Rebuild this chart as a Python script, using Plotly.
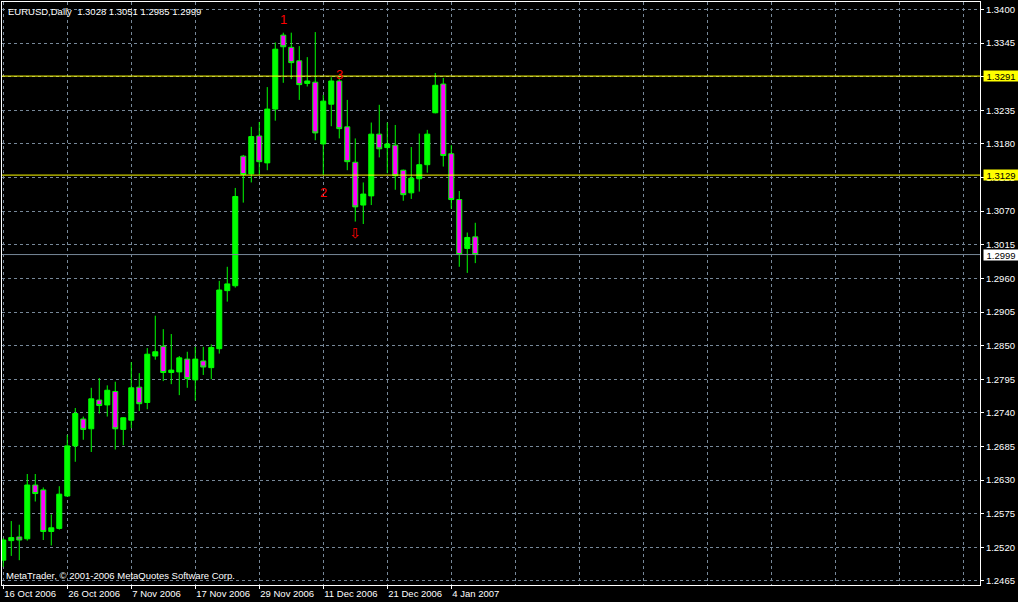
import plotly.graph_objects as go

# ---- data -------------------------------------------------------------
symbol = "EURUSD,Daily"
dates = ["16 Oct 2006", "17 Oct 2006", "18 Oct 2006", "19 Oct 2006", "20 Oct 2006",
         "23 Oct 2006", "24 Oct 2006", "25 Oct 2006", "26 Oct 2006", "27 Oct 2006",
         "30 Oct 2006", "31 Oct 2006", "1 Nov 2006", "2 Nov 2006", "3 Nov 2006",
         "6 Nov 2006", "7 Nov 2006", "8 Nov 2006", "9 Nov 2006", "10 Nov 2006",
         "13 Nov 2006", "14 Nov 2006", "15 Nov 2006", "16 Nov 2006", "17 Nov 2006",
         "20 Nov 2006", "21 Nov 2006", "22 Nov 2006", "23 Nov 2006", "24 Nov 2006",
         "27 Nov 2006", "28 Nov 2006", "29 Nov 2006", "30 Nov 2006", "1 Dec 2006",
         "4 Dec 2006", "5 Dec 2006", "6 Dec 2006", "7 Dec 2006", "8 Dec 2006",
         "11 Dec 2006", "12 Dec 2006", "13 Dec 2006", "14 Dec 2006", "15 Dec 2006",
         "18 Dec 2006", "19 Dec 2006", "20 Dec 2006", "21 Dec 2006", "22 Dec 2006",
         "26 Dec 2006", "27 Dec 2006", "28 Dec 2006", "29 Dec 2006", "2 Jan 2007",
         "3 Jan 2007", "4 Jan 2007", "5 Jan 2007", "8 Jan 2007", "9 Jan 2007"]

opens = [1.2499, 1.2531, 1.2537, 1.2534, 1.2622, 1.2614, 1.2546, 1.2551, 1.2604, 1.2686,
         1.2730, 1.2714, 1.2761, 1.2753, 1.2775, 1.2713, 1.2728, 1.2782, 1.2757, 1.2833,
         1.2849, 1.2806, 1.2807, 1.2828, 1.2794, 1.2825, 1.2814, 1.2845, 1.2940, 1.2948,
         1.3160, 1.3131, 1.3193, 1.3149, 1.3237, 1.3358, 1.3338, 1.3316, 1.3279, 1.3281,
         1.3180, 1.3245, 1.3283, 1.3208, 1.3150, 1.3080, 1.3095, 1.3196, 1.3174, 1.3178,
         1.3137, 1.3100, 1.3123, 1.3146, 1.3231, 1.3278, 1.3164, 1.3089, 1.3009, 1.3028]
highs = [1.2535, 1.2563, 1.2557, 1.2640, 1.2640, 1.2618, 1.2574, 1.2620, 1.2704, 1.2748,
         1.2734, 1.2781, 1.2797, 1.2785, 1.2791, 1.2733, 1.2823, 1.2805, 1.2846, 1.2899,
         1.2877, 1.2869, 1.2833, 1.2840, 1.2848, 1.2848, 1.2852, 1.2956, 1.2979, 1.3108,
         1.3162, 1.3208, 1.3216, 1.3273, 1.3346, 1.3362, 1.3362, 1.3340, 1.3322, 1.3363,
         1.3260, 1.3289, 1.3289, 1.3252, 1.3189, 1.3117, 1.3215, 1.3244, 1.3215, 1.3211,
         1.3138, 1.3175, 1.3197, 1.3203, 1.3296, 1.3288, 1.3178, 1.3103, 1.3035, 1.3051]
lows = [1.2488, 1.2506, 1.2499, 1.2531, 1.2595, 1.2532, 1.2523, 1.2549, 1.2603, 1.2660,
        1.2696, 1.2676, 1.2739, 1.2734, 1.2680, 1.2687, 1.2715, 1.2743, 1.2746, 1.2827,
        1.2792, 1.2787, 1.2769, 1.2781, 1.2760, 1.2802, 1.2795, 1.2837, 1.2922, 1.2945,
        1.3084, 1.3117, 1.3129, 1.3137, 1.3218, 1.3280, 1.3286, 1.3252, 1.3274, 1.3186,
        1.3129, 1.3209, 1.3189, 1.3137, 1.3053, 1.3049, 1.3080, 1.3158, 1.3132, 1.3105,
        1.3087, 1.3090, 1.3102, 1.3133, 1.3230, 1.3143, 1.3074, 1.2979, 1.2969, 1.2985]
closes = [1.2532, 1.2536, 1.2532, 1.2622, 1.2608, 1.2546, 1.2552, 1.2607, 1.2686, 1.2739,
          1.2713, 1.2763, 1.2752, 1.2777, 1.2714, 1.2732, 1.2781, 1.2755, 1.2836, 1.2840,
          1.2806, 1.2810, 1.2830, 1.2796, 1.2828, 1.2815, 1.2847, 1.2941, 1.2951, 1.3094,
          1.3130, 1.3192, 1.3151, 1.3237, 1.3335, 1.3339, 1.3313, 1.3277, 1.3283, 1.3198,
          1.3250, 1.3283, 1.3205, 1.3151, 1.3077, 1.3098, 1.3196, 1.3172, 1.3180, 1.3128,
          1.3097, 1.3124, 1.3146, 1.3196, 1.3276, 1.3161, 1.3089, 1.2999, 1.3027, 1.2999]

price_ticks = [1.3400, 1.3345, 1.3290, 1.3235, 1.3180, 1.3125, 1.3070, 1.3015, 1.2960,
               1.2905, 1.2850, 1.2795, 1.2740, 1.2685, 1.2630, 1.2575, 1.2520, 1.2465]
date_tick_idx = [0, 8, 16, 24, 32, 40, 48, 56]
extra_grid_idx = [64, 72, 80, 88, 96, 104, 112, 120]

level_lines = [1.3291, 1.3129]
bid_price = 1.2999

mark_labels = ["1", "2", "3"]
mark_x = [35, 40, 42]
mark_y = [1.3383, 1.3101, 1.3293]
arrow_x = 44
arrow_y = 1.3034

copyright_text = "MetaTrader, \u00a9 2001-2006 MetaQuotes Software Corp."

# ---- style ------------------------------------------------------------
FONT = "Liberation Sans"
FS = 9.5
GRID = "#778899"
LIME = "#00FF00"
MAGENTA = "#FF00FF"

x = list(range(len(dates)))

fig = go.Figure()
fig.add_trace(go.Candlestick(
    x=x, open=opens, high=highs, low=lows, close=closes,
    increasing=dict(line=dict(color=LIME, width=1), fillcolor=LIME),
    decreasing=dict(line=dict(color=LIME, width=1), fillcolor=MAGENTA),
    whiskerwidth=0, showlegend=False, hoverinfo="skip",
))

shapes = []
for lv in level_lines:
    shapes.append(dict(type="line", xref="paper", x0=0, x1=1, yref="y", y0=lv, y1=lv,
                       line=dict(color="#FFFF00", width=1)))
shapes.append(dict(type="line", xref="paper", x0=0, x1=1, yref="y", y0=bid_price, y1=bid_price,
                   line=dict(color=GRID, width=1)))

annotations = []
title_text = f"{symbol}\u00a0 {opens[-1]:.4f} {highs[-1]:.4f} {lows[-1]:.4f} {closes[-1]:.4f}"
annotations.append(dict(text=title_text, xref="paper", yref="paper", x=0, y=1,
                        xanchor="left", yanchor="top", xshift=4, yshift=-2, showarrow=False,
                        font=dict(family=FONT, size=FS, color="white")))
annotations.append(dict(text=copyright_text, xref="paper", yref="paper", x=0, y=0,
                        xanchor="left", yanchor="bottom", xshift=2, yshift=2, showarrow=False,
                        font=dict(family=FONT, size=FS, color="white")))
for lv in level_lines:
    annotations.append(dict(text=f"{lv:.4f}", xref="paper", yref="y", x=1, y=lv,
                            xanchor="left", yanchor="middle", xshift=3, showarrow=False,
                            bgcolor="#FFFF00", width=34, height=10, borderpad=0,
                            font=dict(family=FONT, size=FS, color="black")))
annotations.append(dict(text=f"{bid_price:.4f}", xref="paper", yref="y", x=1, y=bid_price,
                        xanchor="left", yanchor="middle", xshift=3, showarrow=False,
                        bgcolor="white", width=34, height=10, borderpad=0,
                        font=dict(family=FONT, size=FS, color="black")))
for t, mx, my in zip(mark_labels, mark_x, mark_y):
    annotations.append(dict(text=t, x=mx, y=my, xref="x", yref="y", showarrow=False,
                            font=dict(family=FONT, size=13, color="#FF0000")))
annotations.append(dict(text="\u21e9", x=arrow_x, y=arrow_y, xref="x", yref="y", showarrow=False,
                        font=dict(family="DejaVu Sans", size=14, color="#FF0000")))

fig.update_layout(
    width=1018, height=602,
    margin=dict(l=2, r=38, t=2, b=17),
    paper_bgcolor="black", plot_bgcolor="black",
    font=dict(family=FONT, size=FS, color="white"),
    boxgap=0.375, boxgroupgap=0,
    shapes=shapes, annotations=annotations,
    showlegend=False,
    xaxis=dict(
        range=[-0.16, 122.09], rangeslider=dict(visible=False),
        tickmode="array", tickvals=date_tick_idx,
        ticktext=[dates[i] for i in date_tick_idx],
        ticks="outside", ticklen=3, tickcolor="white", ticklabelposition="outside right",
        tickfont=dict(family=FONT, size=FS, color="white"),
        showgrid=True, gridcolor=GRID, griddash="3px,3px", gridwidth=1,
        minor=dict(tickmode="array", tickvals=extra_grid_idx, showgrid=True,
                   gridcolor=GRID, griddash="3px,3px", gridwidth=1, ticks=""),
        showline=True, linecolor="white", linewidth=1, mirror=True, zeroline=False,
    ),
    yaxis=dict(
        side="right", range=[1.24584, 1.34122],
        tickmode="array", tickvals=price_ticks, ticktext=[f"{v:.4f}" for v in price_ticks],
        ticks="outside", ticklen=3, tickcolor="white",
        tickfont=dict(family=FONT, size=FS, color="white"),
        showgrid=True, gridcolor=GRID, griddash="3px,3px", gridwidth=1,
        showline=True, linecolor="white", linewidth=1, mirror=True, zeroline=False,
    ),
)

fig.write_html(
    "out.html",
    config={"displayModeBar": False},
    post_script="document.body.style.margin='0';document.body.style.background='black';document.body.style.overflow='hidden';",
)
